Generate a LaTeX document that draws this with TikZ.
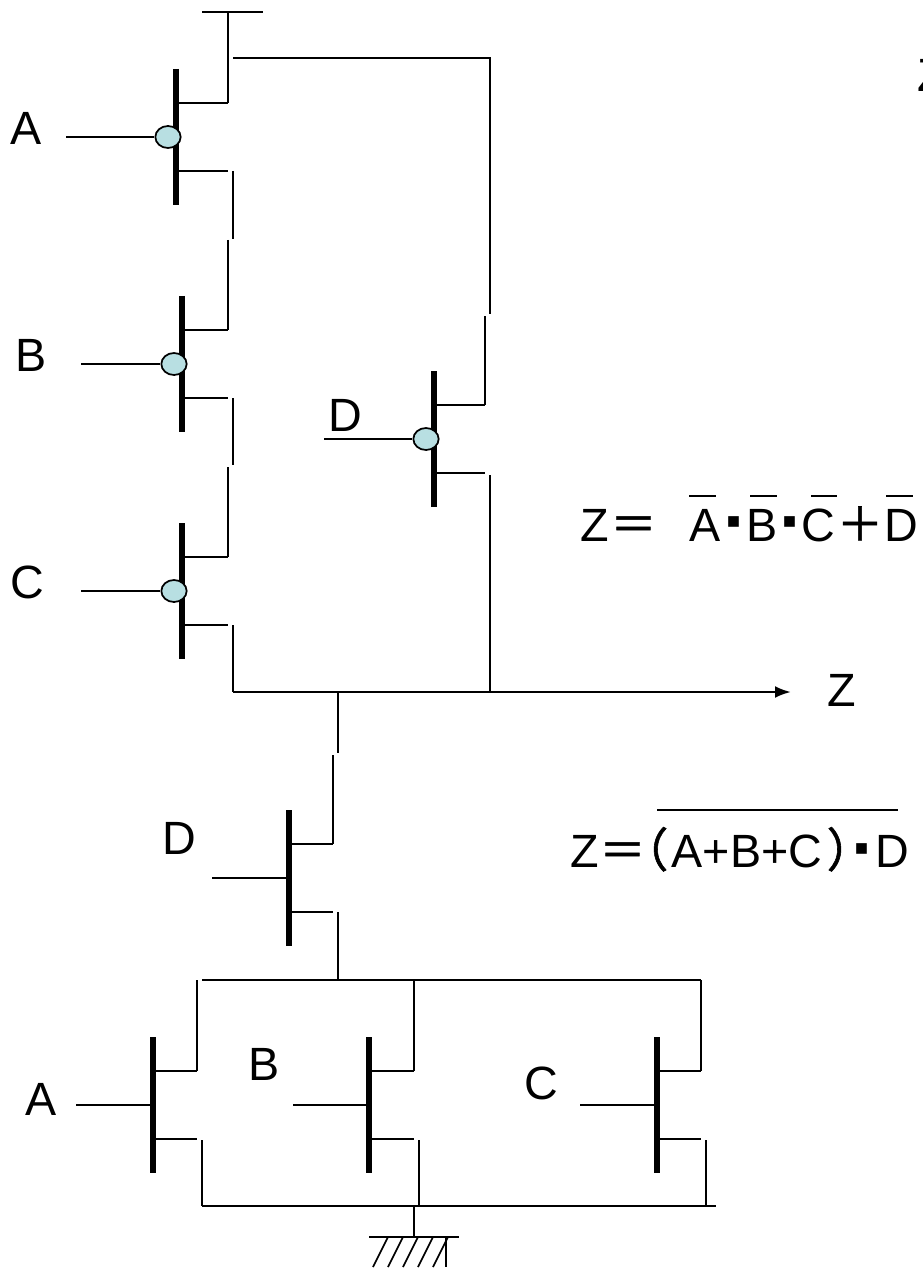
\documentclass[tikz,border=0pt]{standalone}
\usepackage{fontspec}
\setmainfont{Liberation Sans}
\newfontfamily\cjkfont[FakeBold=1.2]{Noto Sans CJK SC}
\newfontfamily\symfont{DejaVu Sans}
\usetikzlibrary{arrows.meta,shapes.geometric}
\definecolor{bubblefill}{HTML}{B8DFE2}
\tikzset{
  wire/.style={draw=black,line width=1.3pt},
  gatebar/.style={draw=black,line width=4.4pt},
  bubble/.style={ellipse,draw=black,line width=1.3pt,fill=bubblefill,minimum width=19pt,minimum height=16.5pt,inner sep=0pt},
  lab/.style={inner sep=0pt,font=\fontsize{35}{40}\selectfont,anchor=base},
  wide/.style={inner sep=0pt,font=\cjkfont\fontsize{35}{40}\selectfont,anchor=base},
  dotmark/.style={inner sep=0pt,font=\symfont\fontsize{16}{18}\selectfont,anchor=center}
}
% #1 name, #2 bar x, #3 bar top y, #4 gate-wire start x, #5 stub end x
\newcommand{\fetbody}[5]{%
  \coordinate (#1t) at (#2,#3);
  \coordinate (#1b) at (#2,#3+136);
  \coordinate (#1dg) at (#2,#3+34);
  \coordinate (#1sg) at (#2,#3+102);
  \coordinate (#1d) at (#5,#3+34);
  \coordinate (#1s) at (#5,#3+102);
  \coordinate (#1in) at (#4,#3+68);
  \coordinate (#1g) at (#2,#3+68);
  \draw[gatebar] (#1t) -- (#1b);
  \draw[wire] (#1dg) -- (#1d);
  \draw[wire] (#1sg) -- (#1s);
}
\begin{document}
\begin{tikzpicture}[x=0.75pt,y=-0.75pt]
\useasboundingbox (0,0) rectangle (922,1269);
% transistors
\fetbody{a}{176}{69}{66}{228}
\fetbody{b}{182}{296}{81}{228}
\fetbody{c}{182}{523}{81}{228}
\fetbody{e}{434}{371}{324}{485}
\fetbody{f}{289}{810}{212}{333}
\fetbody{p}{153}{1037}{76}{197}
\fetbody{q}{369}{1037}{293}{414}
\fetbody{r}{657}{1037}{580}{701}
% bubbles
\node[bubble] (ab) at (168,137) {};
\node[bubble] (bb) at (174,364) {};
\node[bubble] (cb) at (174,591) {};
\node[bubble] (eb) at (426,439) {};
\draw[wire] (ain) -- (ab);
\draw[wire] (bin) -- (bb);
\draw[wire] (cin) -- (cb);
\draw[wire] (ein) -- (eb);
\draw[wire] (fin) -- (fg);
\draw[wire] (pin) -- (pg);
\draw[wire] (qin) -- (qg);
\draw[wire] (rin) -- (rg);
% supply
\coordinate (vl) at (202,12);
\coordinate (vr) at (263,12);
\coordinate (vm) at (228,12);
\draw[wire] (vl) -- (vr);
\draw[wire] (vm) -- (ad);
\coordinate (t1) at (233,58);
\coordinate (t2) at (490,58);
\coordinate (t3) at (490,314);
\draw[wire] (t1) -- (t2) -- (t3);
\coordinate (e1) at (485,316);
\draw[wire] (e1) -- (ed);
% A-B-C chain
\coordinate (ab1) at (233,171);
\coordinate (ab2) at (233,239);
\coordinate (ab3) at (228,240);
\draw[wire] (ab1) -- (ab2);
\draw[wire] (ab3) -- (bd);
\coordinate (bc1) at (233,398);
\coordinate (bc2) at (233,465);
\coordinate (bc3) at (228,467);
\draw[wire] (bc1) -- (bc2);
\draw[wire] (bc3) -- (cd);
% output bus
\coordinate (o1) at (233,625);
\coordinate (o2) at (233,692);
\coordinate (o3) at (791,692);
\coordinate (o4) at (338,692);
\coordinate (o5) at (490,692);
\coordinate (o6) at (490,475);
\draw[wire] (o1) -- (o2);
\draw[line width=1.9pt,-{Latex[length=12pt,width=9pt]}] (o2) -- (o3);
\draw[wire] (o6) -- (o5);
\coordinate (o7) at (338,753);
\coordinate (o8) at (333,755);
\draw[wire] (o4) -- (o7);
\draw[wire] (o8) -- (fd);
% lower network
\coordinate (n1) at (338,912);
\coordinate (n2) at (338,980);
\draw[wire] (n1) -- (n2);
\coordinate (h1) at (202,980);
\coordinate (h2) at (701,980);
\draw[wire] (h1) -- (h2);
\coordinate (p1) at (197,980);
\coordinate (q1) at (414,980);
\draw[wire] (p1) -- (pd);
\draw[wire] (q1) -- (qd);
\draw[wire] (h2) -- (rd);
\coordinate (g1) at (202,1140);
\coordinate (g2) at (202,1206);
\coordinate (g3) at (419,1140);
\coordinate (g4) at (419,1206);
\coordinate (g5) at (706,1140);
\coordinate (g6) at (706,1206);
\coordinate (g7) at (716,1206);
\draw[wire] (g1) -- (g2);
\draw[wire] (g3) -- (g4);
\draw[wire] (g5) -- (g6);
\draw[wire] (g2) -- (g7);
% ground
\coordinate (k1) at (414,1206);
\coordinate (k2) at (414,1237);
\coordinate (k3) at (369,1237);
\coordinate (k4) at (459,1237);
\draw[wire] (k1) -- (k2);
\draw[wire] (k3) -- (k4);
\foreach \i in {0,...,4}{
  \draw[wire] ({388+15*\i},1237) -- ({373+15*\i},1267);
}
\coordinate (k5) at (446,1237);
\coordinate (k6) at (446,1267);
\draw[wire] (k5) -- (k6);
% labels
\node[lab] (la) at (26,144.5) {A};
\node[lab] (lb) at (31,371) {B};
\node[lab] (lc) at (27,598) {C};
\node[lab] (ld) at (345,431) {D};
\node[lab] (lf) at (179,854) {D};
\node[lab] (lp) at (41,1115) {A};
\node[lab] (lq) at (264,1080) {B};
\node[lab] (lr) at (541,1099) {C};
\node[lab] (lz) at (842,706) {Z};
\node[lab,anchor=base west] (top) at (917.5,92) {Z};
% equation 1
\node[lab,anchor=base west] (z1) at (580,541) {Z};
\node[wide] (z1e) at (633.5,541) {＝};
\node[lab,anchor=base west] (na) at (689.5,541) {A};
\node[lab,anchor=base west] (nb) at (746,541) {B};
\node[lab,anchor=base west] (nc) at (801,541) {C};
\node[wide] (pl) at (860,541) {＋};
\node[lab,anchor=base west] (nd) at (884.5,541) {D};
\node[dotmark] (d1) at (733.5,522.5) {▪};
\node[dotmark] (d2) at (789.5,522.5) {▪};
\coordinate (ba1) at (689,496); \coordinate (ba2) at (716,496);
\coordinate (bb1) at (750,496); \coordinate (bb2) at (777,496);
\coordinate (bc4) at (811,496); \coordinate (bc5) at (837,496);
\coordinate (bd1) at (886,496); \coordinate (bd2) at (913,496);
\draw[line width=1pt] (ba1) -- (ba2);
\draw[line width=1pt] (bb1) -- (bb2);
\draw[line width=1pt] (bc4) -- (bc5);
\draw[line width=1pt] (bd1) -- (bd2);
% equation 2
\node[lab,anchor=base west] (z2) at (570,867) {Z};
\node[wide] (z2e) at (622.5,867) {＝};
\node[wide] (pa) at (645,867) {（};
\node[lab,anchor=base west] (z2t) at (671.5,867) {A+B+C};
\node[wide] (pb) at (850,867) {）};
\node[dotmark] (d3) at (861.5,849.5) {▪};
\node[lab,anchor=base west] (z2d) at (875.5,867) {D};
\coordinate (ov1) at (657,810);
\coordinate (ov2) at (898,810);
\draw[wire] (ov1) -- (ov2);
\end{tikzpicture}
\end{document}
